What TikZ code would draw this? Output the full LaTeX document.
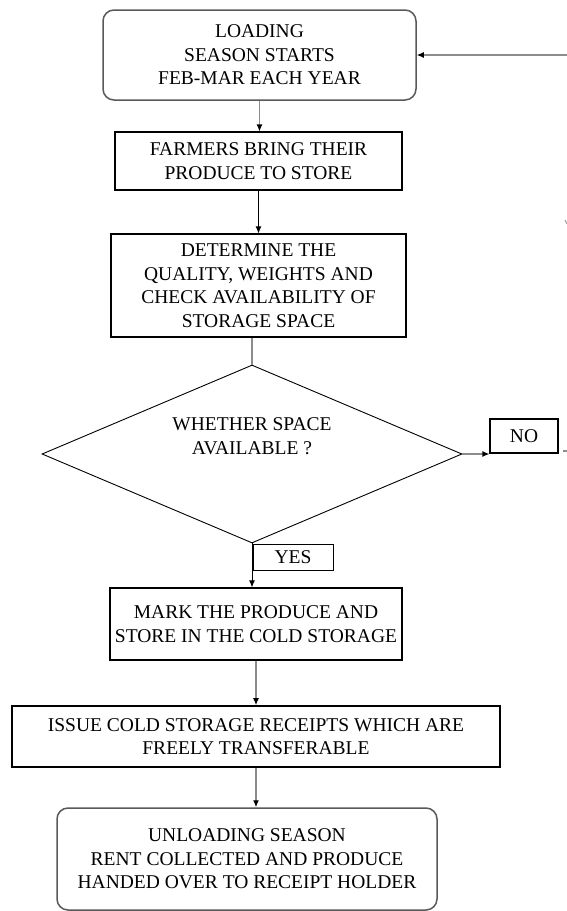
\documentclass[tikz,border=0pt]{standalone}
\usepackage{fontspec}
\setmainfont{Liberation Serif}
\usetikzlibrary{arrows.meta,shapes.geometric,calc}
\begin{document}
\begin{tikzpicture}[x=1pt,y=-1pt,
  txt/.style={font=\fontsize{19.5}{23.5}\selectfont, align=center, inner sep=0pt},
  box/.style={txt, draw=black, line width=1.1pt},
  rbox/.style={txt, draw=black!65, line width=1.5pt, rounded corners=11pt},
  conn/.style={draw=black!45, line width=1.2pt, -{Latex[length=7pt,width=6pt,color=black]}},
  connk/.style={draw=black, line width=1pt, -{Latex[length=7pt,width=6pt,color=black]}},
  plain/.style={draw=black!45, line width=1.2pt}
]
\useasboundingbox (0,0) rectangle (567,911);

\node[rbox, minimum width=313pt, minimum height=90pt] (start) at (259.5,55)
  {LOADING\\SEASON STARTS\\FEB-MAR EACH YEAR};
\node[box, minimum width=287pt, minimum height=58pt] (bring) at (258.5,161)
  {FARMERS BRING THEIR\\PRODUCE TO STORE};
\node[box, minimum width=295pt, minimum height=103pt] (det) at (258.5,285.5)
  {DETERMINE THE\\QUALITY, WEIGHTS AND\\CHECK AVAILABILITY OF\\STORAGE SPACE};
\node[diamond, draw=black, line width=0.9pt, minimum width=420pt, minimum height=178pt, inner sep=0pt] (dia) at (252,454) {};
\node[txt] (diatxt) at (252,436) {WHETHER SPACE\\AVAILABLE ?};
\node[box, minimum width=68pt, minimum height=34pt] (no) at (524,436) {NO};
\node[box, line width=1pt, minimum width=80pt, minimum height=26pt] (yes) at (293,557) {YES};
\node[box, minimum width=292pt, minimum height=72pt] (mark) at (256,624)
  {MARK THE PRODUCE AND\\STORE IN THE COLD STORAGE};
\node[box, line width=1.6pt, minimum width=488pt, minimum height=61pt] (issue) at (256,736.5)
  {ISSUE COLD STORAGE RECEIPTS WHICH ARE\\FREELY TRANSFERABLE};
\node[rbox, minimum width=380pt, minimum height=102pt] (unload) at (247,859)
  {UNLOADING SEASON\\RENT COLLECTED AND PRODUCE\\HANDED OVER TO RECEIPT HOLDER};

\coordinate (loopR) at (567,55);
\coordinate (cutA) at (563,451);
\coordinate (cutB) at (567,451);
\coordinate (cutC) at (565,220);
\coordinate (cutD) at (567,224);

\draw[conn] (loopR) -- (start.east);
\draw[conn] (start.south) -- (start.south |- bring.north);
\draw[connk] (bring.south) -- (det.north);
\draw[plain] (dia.north |- det.south) -- (dia.north);
\draw[conn] (dia.east) -- (dia.east -| no.west);
\draw[connk] (dia.south) -- (dia.south |- mark.north);
\draw[conn] (mark.south) -- (issue.north);
\draw[conn] (issue.south) -- (issue.south |- unload.north);
\draw[plain] (cutA) -- (cutB);
\draw[plain, line width=0.8pt] (cutC) -- (cutD);
\end{tikzpicture}
\end{document}
